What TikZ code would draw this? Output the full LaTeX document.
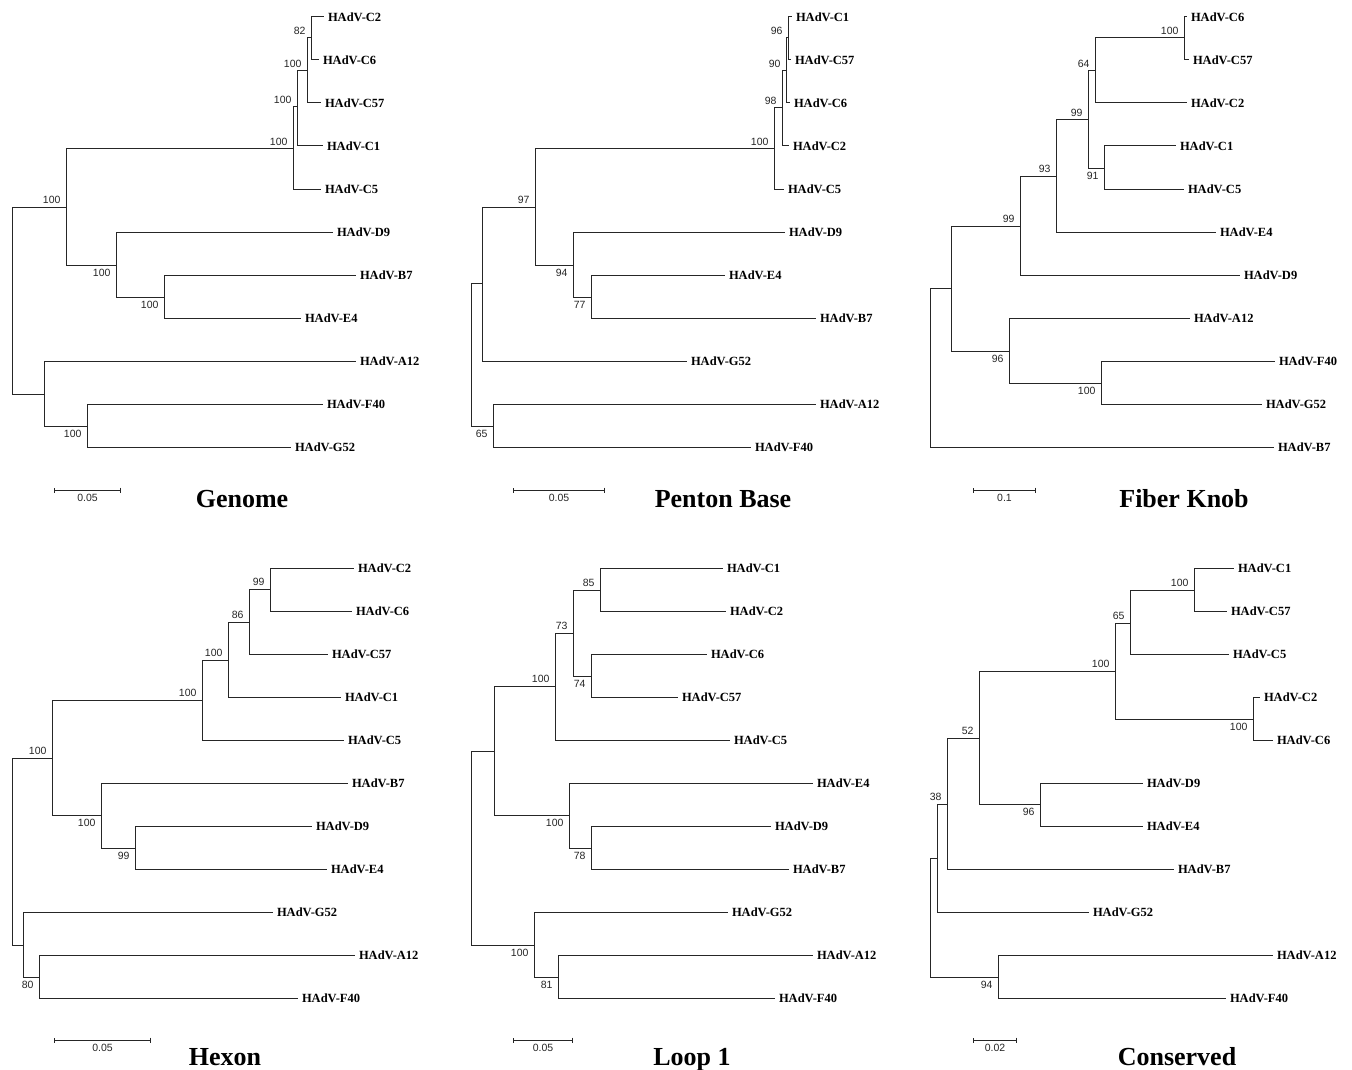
\documentclass[tikz,border=0pt]{standalone}
\usepackage{fontspec}
\setmainfont{Liberation Serif}
\newfontfamily\bootfont{Liberation Sans}
\usepackage{tikz}
\usetikzlibrary{positioning}
\usetikzlibrary{arrows.meta}

\begin{document}
\begin{tikzpicture}[
            x = 1pt, % one unit per pixel
            y = -1pt, % rows counted downward
            line width = 1pt, % branch width
            line cap = rect
            ]

        \tikzstyle{branch}=[
            draw = black!85,
            to path = {|- (\tikztotarget)}
        ]
        \tikzstyle{leaf}=[anchor = west, inner xsep = 4.5pt, inner ysep = 1pt, font = \fontsize{12.5}{14}\selectfont\bfseries]
        \tikzstyle{boot}=[inner sep = 0pt, text = black!85, font = \bootfont\fontsize{10.5}{12}\selectfont]
        \tikzstyle{scalebar}=[draw = black!85, {Bar[width=5pt]}-{Bar[width=5pt]}]
        \tikzstyle{title}=[anchor = base, inner sep = 0pt, font = \fontsize{26}{30}\selectfont\bfseries]

        \useasboundingbox (0,0) rectangle (1352,1070);

        % ---------------- Genome ----------------
        \node[leaf] (GC2) at (323,17) {HAdV-C2};
        \node[leaf] (GC6) at (318,60) {HAdV-C6};
        \node[leaf] (GC57) at (320,103) {HAdV-C57};
        \node[leaf] (GC1) at (322,146) {HAdV-C1};
        \node[leaf] (GC5) at (320,189) {HAdV-C5};
        \node[leaf] (GD9) at (332,232) {HAdV-D9};
        \node[leaf] (GB7) at (355,275) {HAdV-B7};
        \node[leaf] (GE4) at (300,318) {HAdV-E4};
        \node[leaf] (GA12) at (355,361) {HAdV-A12};
        \node[leaf] (GF40) at (322,404) {HAdV-F40};
        \node[leaf] (GG52) at (290,447) {HAdV-G52};

        % clades
        \coordinate (G0) at (12,300);
        \coordinate (G1) at (66,207);
        \coordinate (G2) at (44,394);
        \coordinate (G3) at (293,149);
        \coordinate (G4) at (297,107);
        \coordinate (G5) at (307,71);
        \coordinate (G6) at (311,38);
        \coordinate (G7) at (116,265);
        \coordinate (G8) at (164,297);
        \coordinate (G9) at (87,426);

        \path (G0) edge[branch] (G1) edge[branch] (G2);
        \path (G1) edge[branch] (G3) edge[branch] (G7);
        \path (G3) edge[branch] (G4) edge[branch] (GC5);
        \path (G4) edge[branch] (G5) edge[branch] (GC1);
        \path (G5) edge[branch] (G6) edge[branch] (GC57);
        \path (G6) edge[branch] (GC2) edge[branch] (GC6);
        \path (G7) edge[branch] (GD9) edge[branch] (G8);
        \path (G8) edge[branch] (GB7) edge[branch] (GE4);
        \path (G2) edge[branch] (GA12) edge[branch] (G9);
        \path (G9) edge[branch] (GF40) edge[branch] (GG52);

        % bootstrap
        \node[boot, above left = 2.5pt and 5pt of G6] (G6b) {82};
        \node[boot, above left = 2.5pt and 5pt of G5] (G5b) {100};
        \node[boot, above left = 2.5pt and 5pt of G4] (G4b) {100};
        \node[boot, above left = 2.5pt and 5pt of G3] (G3b) {100};
        \node[boot, above left = 2.5pt and 5pt of G1] (G1b) {100};
        \node[boot, below left = 3.5pt and 5pt of G7] (G7b) {100};
        \node[boot, below left = 3.5pt and 5pt of G8] (G8b) {100};
        \node[boot, below left = 3.5pt and 5pt of G9] (G9b) {100};

        \coordinate (GS1) at (54,490);
        \coordinate (GS2) at (121,490);
        \path[scalebar] (GS1) -- node[boot, below = 3.5pt] (GSl) {0.05} (GS2);
        \node[title] (GT) at (242,507) {Genome};

        % ---------------- Penton Base ----------------
        \node[leaf] (PC1) at (791,17) {HAdV-C1};
        \node[leaf] (PC57) at (790,60) {HAdV-C57};
        \node[leaf] (PC6) at (789,103) {HAdV-C6};
        \node[leaf] (PC2) at (788,146) {HAdV-C2};
        \node[leaf] (PC5) at (783,189) {HAdV-C5};
        \node[leaf] (PD9) at (784,232) {HAdV-D9};
        \node[leaf] (PE4) at (724,275) {HAdV-E4};
        \node[leaf] (PB7) at (815,318) {HAdV-B7};
        \node[leaf] (PG52) at (686,361) {HAdV-G52};
        \node[leaf] (PA12) at (815,404) {HAdV-A12};
        \node[leaf] (PF40) at (750,447) {HAdV-F40};

        % clades
        \coordinate (P0) at (471,354);
        \coordinate (P1) at (482,283);
        \coordinate (P2) at (493,426);
        \coordinate (P3) at (535,207);
        \coordinate (P4) at (774,149);
        \coordinate (P5) at (573,265);
        \coordinate (P6) at (782,108);
        \coordinate (P7) at (786,71);
        \coordinate (P8) at (788,38);
        \coordinate (P9) at (591,297);

        \path (P0) edge[branch] (P1) edge[branch] (P2);
        \path (P1) edge[branch] (P3) edge[branch] (PG52);
        \path (P3) edge[branch] (P4) edge[branch] (P5);
        \path (P4) edge[branch] (P6) edge[branch] (PC5);
        \path (P6) edge[branch] (P7) edge[branch] (PC2);
        \path (P7) edge[branch] (P8) edge[branch] (PC6);
        \path (P8) edge[branch] (PC1) edge[branch] (PC57);
        \path (P5) edge[branch] (PD9) edge[branch] (P9);
        \path (P9) edge[branch] (PE4) edge[branch] (PB7);
        \path (P2) edge[branch] (PA12) edge[branch] (PF40);

        % bootstrap
        \node[boot, above left = 2.5pt and 5pt of P8] (P8b) {96};
        \node[boot, above left = 2.5pt and 5pt of P7] (P7b) {90};
        \node[boot, above left = 2.5pt and 5pt of P6] (P6b) {98};
        \node[boot, above left = 2.5pt and 5pt of P4] (P4b) {100};
        \node[boot, above left = 2.5pt and 5pt of P3] (P3b) {97};
        \node[boot, below left = 3.5pt and 5pt of P5] (P5b) {94};
        \node[boot, below left = 3.5pt and 5pt of P9] (P9b) {77};
        \node[boot, below left = 3.5pt and 5pt of P2] (P2b) {65};

        \coordinate (PS1) at (513,490);
        \coordinate (PS2) at (605,490);
        \path[scalebar] (PS1) -- node[boot, below = 3.5pt] (PSl) {0.05} (PS2);
        \node[title] (PT) at (723,507) {Penton Base};

        % ---------------- Fiber Knob ----------------
        \node[leaf] (FC6) at (1186,17) {HAdV-C6};
        \node[leaf] (FC57) at (1188,60) {HAdV-C57};
        \node[leaf] (FC2) at (1186,103) {HAdV-C2};
        \node[leaf] (FC1) at (1175,146) {HAdV-C1};
        \node[leaf] (FC5) at (1183,189) {HAdV-C5};
        \node[leaf] (FE4) at (1215,232) {HAdV-E4};
        \node[leaf] (FD9) at (1239,275) {HAdV-D9};
        \node[leaf] (FA12) at (1189,318) {HAdV-A12};
        \node[leaf] (FF40) at (1274,361) {HAdV-F40};
        \node[leaf] (FG52) at (1261,404) {HAdV-G52};
        \node[leaf] (FB7) at (1273,447) {HAdV-B7};

        % clades
        \coordinate (F0) at (930,367);
        \coordinate (F1) at (951,288);
        \coordinate (F2) at (1020,226);
        \coordinate (F3) at (1009,351);
        \coordinate (F4) at (1101,383);
        \coordinate (F5) at (1056,176);
        \coordinate (F6) at (1088,120);
        \coordinate (F7) at (1095,71);
        \coordinate (F8) at (1104,168);
        \coordinate (F9) at (1184,38);

        \path (F0) edge[branch] (F1) edge[branch] (FB7);
        \path (F1) edge[branch] (F2) edge[branch] (F3);
        \path (F3) edge[branch] (FA12) edge[branch] (F4);
        \path (F4) edge[branch] (FF40) edge[branch] (FG52);
        \path (F2) edge[branch] (F5) edge[branch] (FD9);
        \path (F5) edge[branch] (F6) edge[branch] (FE4);
        \path (F6) edge[branch] (F7) edge[branch] (F8);
        \path (F7) edge[branch] (F9) edge[branch] (FC2);
        \path (F9) edge[branch] (FC6) edge[branch] (FC57);
        \path (F8) edge[branch] (FC1) edge[branch] (FC5);

        % bootstrap
        \node[boot, above left = 2.5pt and 5pt of F9] (F9b) {100};
        \node[boot, above left = 2.5pt and 5pt of F7] (F7b) {64};
        \node[boot, above left = 2.5pt and 5pt of F6] (F6b) {99};
        \node[boot, above left = 2.5pt and 5pt of F5] (F5b) {93};
        \node[boot, above left = 2.5pt and 5pt of F2] (F2b) {99};
        \node[boot, below left = 3.5pt and 5pt of F8] (F8b) {91};
        \node[boot, below left = 3.5pt and 5pt of F3] (F3b) {96};
        \node[boot, below left = 3.5pt and 5pt of F4] (F4b) {100};

        \coordinate (FS1) at (973,490);
        \coordinate (FS2) at (1036,490);
        \path[scalebar] (FS1) -- node[boot, below = 3.5pt] (FSl) {0.1} (FS2);
        \node[title] (FT) at (1184,507) {Fiber Knob};

        % ---------------- Hexon ----------------
        \node[leaf] (HC2) at (353,568) {HAdV-C2};
        \node[leaf] (HC6) at (351,611) {HAdV-C6};
        \node[leaf] (HC57) at (327,654) {HAdV-C57};
        \node[leaf] (HC1) at (340,697) {HAdV-C1};
        \node[leaf] (HC5) at (343,740) {HAdV-C5};
        \node[leaf] (HB7) at (347,783) {HAdV-B7};
        \node[leaf] (HD9) at (311,826) {HAdV-D9};
        \node[leaf] (HE4) at (326,869) {HAdV-E4};
        \node[leaf] (HG52) at (272,912) {HAdV-G52};
        \node[leaf] (HA12) at (354,955) {HAdV-A12};
        \node[leaf] (HF40) at (297,998) {HAdV-F40};

        % clades
        \coordinate (H0) at (12,851);
        \coordinate (H1) at (52,758);
        \coordinate (H2) at (23,945);
        \coordinate (H3) at (202,700);
        \coordinate (H4) at (101,815);
        \coordinate (H5) at (228,660);
        \coordinate (H6) at (249,622);
        \coordinate (H7) at (270,589);
        \coordinate (H8) at (135,848);
        \coordinate (H9) at (39,977);

        \path (H0) edge[branch] (H1) edge[branch] (H2);
        \path (H1) edge[branch] (H3) edge[branch] (H4);
        \path (H3) edge[branch] (H5) edge[branch] (HC5);
        \path (H5) edge[branch] (H6) edge[branch] (HC1);
        \path (H6) edge[branch] (H7) edge[branch] (HC57);
        \path (H7) edge[branch] (HC2) edge[branch] (HC6);
        \path (H4) edge[branch] (HB7) edge[branch] (H8);
        \path (H8) edge[branch] (HD9) edge[branch] (HE4);
        \path (H2) edge[branch] (HG52) edge[branch] (H9);
        \path (H9) edge[branch] (HA12) edge[branch] (HF40);

        % bootstrap
        \node[boot, above left = 2.5pt and 5pt of H1] (H1b) {100};
        \node[boot, above left = 2.5pt and 5pt of H3] (H3b) {100};
        \node[boot, above left = 2.5pt and 5pt of H5] (H5b) {100};
        \node[boot, above left = 2.5pt and 5pt of H6] (H6b) {86};
        \node[boot, above left = 2.5pt and 5pt of H7] (H7b) {99};
        \node[boot, below left = 3.5pt and 5pt of H4] (H4b) {100};
        \node[boot, below left = 3.5pt and 5pt of H8] (H8b) {99};
        \node[boot, below left = 3.5pt and 5pt of H9] (H9b) {80};

        \coordinate (HS1) at (54,1040);
        \coordinate (HS2) at (151,1040);
        \path[scalebar] (HS1) -- node[boot, below = 3.5pt] (HSl) {0.05} (HS2);
        \node[title] (HT) at (225,1065) {Hexon};

        % ---------------- Loop 1 ----------------
        \node[leaf] (LC1) at (722,568) {HAdV-C1};
        \node[leaf] (LC2) at (725,611) {HAdV-C2};
        \node[leaf] (LC6) at (706,654) {HAdV-C6};
        \node[leaf] (LC57) at (677,697) {HAdV-C57};
        \node[leaf] (LC5) at (729,740) {HAdV-C5};
        \node[leaf] (LE4) at (812,783) {HAdV-E4};
        \node[leaf] (LD9) at (770,826) {HAdV-D9};
        \node[leaf] (LB7) at (788,869) {HAdV-B7};
        \node[leaf] (LG52) at (727,912) {HAdV-G52};
        \node[leaf] (LA12) at (812,955) {HAdV-A12};
        \node[leaf] (LF40) at (774,998) {HAdV-F40};

        % clades
        \coordinate (L0) at (471,848);
        \coordinate (L1) at (494,751);
        \coordinate (L2) at (534,945);
        \coordinate (L3) at (555,686);
        \coordinate (L4) at (569,815);
        \coordinate (L5) at (573,633);
        \coordinate (L6) at (600,590);
        \coordinate (L7) at (591,676);
        \coordinate (L8) at (591,848);
        \coordinate (L9) at (558,977);

        \path (L0) edge[branch] (L1) edge[branch] (L2);
        \path (L1) edge[branch] (L3) edge[branch] (L4);
        \path (L3) edge[branch] (L5) edge[branch] (LC5);
        \path (L5) edge[branch] (L6) edge[branch] (L7);
        \path (L6) edge[branch] (LC1) edge[branch] (LC2);
        \path (L7) edge[branch] (LC6) edge[branch] (LC57);
        \path (L4) edge[branch] (LE4) edge[branch] (L8);
        \path (L8) edge[branch] (LD9) edge[branch] (LB7);
        \path (L2) edge[branch] (LG52) edge[branch] (L9);
        \path (L9) edge[branch] (LA12) edge[branch] (LF40);

        % bootstrap
        \node[boot, above left = 2.5pt and 5pt of L3] (L3b) {100};
        \node[boot, above left = 2.5pt and 5pt of L5] (L5b) {73};
        \node[boot, above left = 2.5pt and 5pt of L6] (L6b) {85};
        \node[boot, below left = 3.5pt and 5pt of L7] (L7b) {74};
        \node[boot, below left = 3.5pt and 5pt of L4] (L4b) {100};
        \node[boot, below left = 3.5pt and 5pt of L8] (L8b) {78};
        \node[boot, below left = 3.5pt and 5pt of L2] (L2b) {100};
        \node[boot, below left = 3.5pt and 5pt of L9] (L9b) {81};

        \coordinate (LS1) at (513,1040);
        \coordinate (LS2) at (573,1040);
        \path[scalebar] (LS1) -- node[boot, below = 3.5pt] (LSl) {0.05} (LS2);
        \node[title] (LT) at (692,1065) {Loop 1};

        % ---------------- Conserved ----------------
        \node[leaf] (KC1) at (1233,568) {HAdV-C1};
        \node[leaf] (KC57) at (1226,611) {HAdV-C57};
        \node[leaf] (KC5) at (1228,654) {HAdV-C5};
        \node[leaf] (KC2) at (1259,697) {HAdV-C2};
        \node[leaf] (KC6) at (1272,740) {HAdV-C6};
        \node[leaf] (KD9) at (1142,783) {HAdV-D9};
        \node[leaf] (KE4) at (1142,826) {HAdV-E4};
        \node[leaf] (KB7) at (1173,869) {HAdV-B7};
        \node[leaf] (KG52) at (1088,912) {HAdV-G52};
        \node[leaf] (KA12) at (1272,955) {HAdV-A12};
        \node[leaf] (KF40) at (1225,998) {HAdV-F40};

        % clades
        \coordinate (K0) at (930,917);
        \coordinate (K1) at (937,858);
        \coordinate (K2) at (998,977);
        \coordinate (K3) at (947,804);
        \coordinate (K4) at (979,738);
        \coordinate (K5) at (1115,671);
        \coordinate (K6) at (1040,804);
        \coordinate (K7) at (1130,623);
        \coordinate (K8) at (1253,719);
        \coordinate (K9) at (1194,590);

        \path (K0) edge[branch] (K1) edge[branch] (K2);
        \path (K1) edge[branch] (K3) edge[branch] (KG52);
        \path (K3) edge[branch] (K4) edge[branch] (KB7);
        \path (K4) edge[branch] (K5) edge[branch] (K6);
        \path (K5) edge[branch] (K7) edge[branch] (K8);
        \path (K7) edge[branch] (K9) edge[branch] (KC5);
        \path (K9) edge[branch] (KC1) edge[branch] (KC57);
        \path (K8) edge[branch] (KC2) edge[branch] (KC6);
        \path (K6) edge[branch] (KD9) edge[branch] (KE4);
        \path (K2) edge[branch] (KA12) edge[branch] (KF40);

        % bootstrap
        \node[boot, above left = 2.5pt and 5pt of K3] (K3b) {38};
        \node[boot, above left = 2.5pt and 5pt of K4] (K4b) {52};
        \node[boot, above left = 2.5pt and 5pt of K5] (K5b) {100};
        \node[boot, above left = 2.5pt and 5pt of K7] (K7b) {65};
        \node[boot, above left = 2.5pt and 5pt of K9] (K9b) {100};
        \node[boot, below left = 3.5pt and 5pt of K8] (K8b) {100};
        \node[boot, below left = 3.5pt and 5pt of K6] (K6b) {96};
        \node[boot, below left = 3.5pt and 5pt of K2] (K2b) {94};

        \coordinate (KS1) at (973,1040);
        \coordinate (KS2) at (1017,1040);
        \path[scalebar] (KS1) -- node[boot, below = 3.5pt] (KSl) {0.02} (KS2);
        \node[title] (KT) at (1177,1065) {Conserved};

\end{tikzpicture}
\end{document}
